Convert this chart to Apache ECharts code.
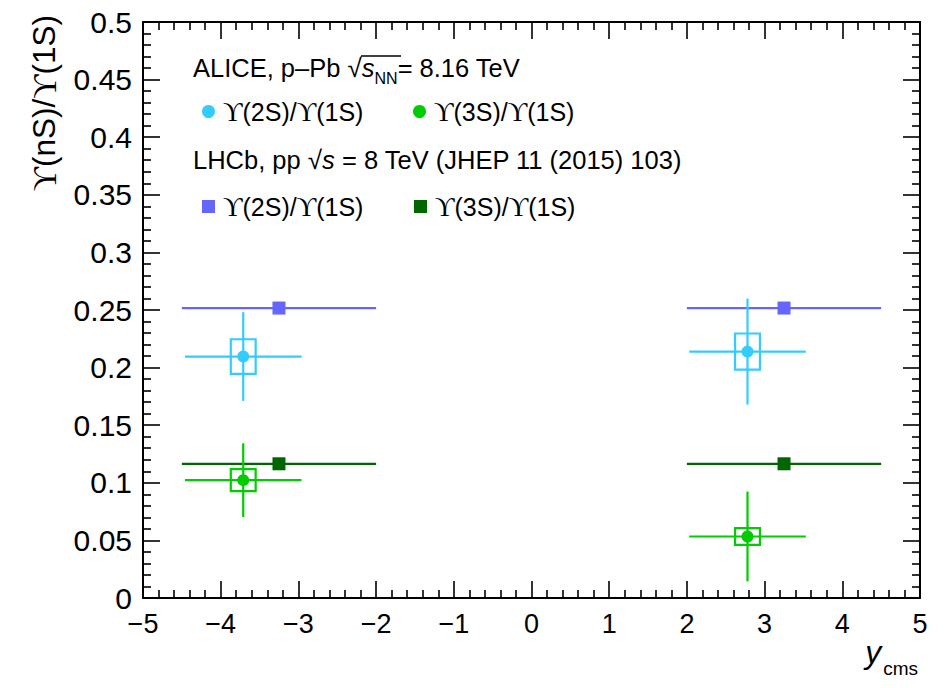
<!DOCTYPE html>
<html>
<head>
<meta charset="utf-8">
<script src="https://cdn.jsdelivr.net/npm/echarts@6/dist/echarts.min.js"></script>
<style>
html,body{margin:0;padding:0;background:#fff;}
#chart{width:950px;height:688px;}
</style>
</head>
<body>
<div id="chart"></div>
<script>
// ---- data ----
const xTickLabels = ['−5','−4','−3','−2','−1','0','1','2','3','4','5'];
const aliceX = [-3.71, 2.78];
const aliceXLow = [-4.46, 2.03];
const aliceXHigh = [-2.96, 3.53];
const alice2S = [0.2096, 0.2139];
const alice2SStat = [0.0385, 0.046];
const alice2SSyst = [0.015, 0.0157];
const alice3S = [0.1023, 0.0534];
const alice3SStat = [0.032, 0.039];
const alice3SSyst = [0.0095, 0.0073];
const lhcbX = [-3.25, 3.25];
const lhcbXLow = [-4.5, 2.0];
const lhcbXHigh = [-2.0, 4.5];
const lhcb2S = [0.2517, 0.2517];
const lhcb3S = [0.1165, 0.1165];

// ---- styles ----
const C_A2 = '#33ccff', C_A3 = '#00cc00', C_L2 = '#6666ff', C_L3 = '#006600';
const BOX_HALF = 0.16;
const SANS = "'Liberation Sans', Arial, Helvetica, sans-serif";
const SERIF = "'Liberation Serif','DejaVu Serif',serif";

function errData(xs, xl, xh, ys, st) {
  return xs.map((x, i) => [x, ys[i], xl[i], xh[i], ys[i] - st[i], ys[i] + st[i]]);
}
function boxData(xs, ys, sy) {
  return xs.map((x, i) => [x, ys[i], ys[i] - sy[i], ys[i] + sy[i]]);
}
function errRender(color) {
  return function (params, api) {
    const l = api.coord([api.value(2), api.value(1)]);
    const r = api.coord([api.value(3), api.value(1)]);
    const lo = api.coord([api.value(0), api.value(4)]);
    const hi = api.coord([api.value(0), api.value(5)]);
    const st = {stroke: color, lineWidth: 2.2};
    const children = [{type: 'line', shape: {x1: l[0], y1: l[1], x2: r[0], y2: r[1]}, style: st}];
    if (Math.abs(lo[1] - hi[1]) > 0.5) {
      children.push({type: 'line', shape: {x1: lo[0], y1: lo[1], x2: hi[0], y2: hi[1]}, style: st});
    }
    return {type: 'group', children};
  };
}
function boxRender(color) {
  return function (params, api) {
    const a = api.coord([api.value(0) - BOX_HALF, api.value(3)]);
    const b = api.coord([api.value(0) + BOX_HALF, api.value(2)]);
    return {type: 'rect', shape: {x: a[0], y: a[1], width: b[0] - a[0], height: b[1] - a[1]},
      style: {fill: 'none', stroke: color, lineWidth: 2.2}};
  };
}
function pts(xs, ys) { return xs.map((x, i) => [x, ys[i]]); }

const chart = echarts.init(document.getElementById('chart'), null, {renderer: 'svg'});

const axisCommon = {
  axisLine: {show: true, onZero: false, lineStyle: {color: '#000', width: 2}},
  axisTick: {show: true, inside: true, length: 17, lineStyle: {color: '#000', width: 1.6}},
  minorTick: {show: true, splitNumber: 5, length: 8, lineStyle: {color: '#000', width: 1.6}},
  splitLine: {show: false},
  minorSplitLine: {show: false}
};

const richU = {
  t: {fontFamily: SANS, fontSize: 25, color: '#000', fontWeight: 'normal'},
  u: {fontFamily: SERIF, fontSize: 27, color: '#000', fontWeight: 'normal'}
};
const upsLabel = (n) => '{u|ϒ}{t|(' + n + 'S)/}{u|ϒ}{t|(1S)}';

function mkLegend(name, left, top) {
  return {
    data: [name], left: left, top: top, padding: 0, orient: 'horizontal',
    itemWidth: 13, itemHeight: 13, selectedMode: false,
    formatter: (n) => upsLabel(n.indexOf('2S') >= 0 ? 2 : 3),
    textStyle: {padding: [0, 0, 0, 3], rich: richU, lineHeight: 26}
  };
}

const headRich = {
  t: {fontFamily: SANS, fontSize: 25.5, color: '#000', fontWeight: 'normal', verticalAlign: 'bottom'},
  r: {fontFamily: SANS, fontSize: 26, color: '#000', fontWeight: 'normal', verticalAlign: 'bottom'},
  s: {fontFamily: SANS, fontSize: 25.5, fontStyle: 'italic', color: '#000', fontWeight: 'normal', verticalAlign: 'bottom'},
  sub: {fontFamily: SANS, fontSize: 16, color: '#000', fontWeight: 'normal', verticalAlign: 'bottom', padding: [0, 0, -5, 0]}
};

const option = {
  animation: false,
  backgroundColor: '#fff',
  grid: {left: 143, right: 30, top: 22, bottom: 90, containLabel: false},
  xAxis: [
    Object.assign({type: 'value', min: -5, max: 5, interval: 1, position: 'bottom',
      axisLabel: {show: true, fontSize: 27, fontFamily: SANS, color: '#000', margin: 12,
        formatter: (v) => xTickLabels[Math.round(v) + 5]}}, axisCommon),
    Object.assign({type: 'value', min: -5, max: 5, interval: 1, position: 'top',
      axisLabel: {show: false}}, axisCommon)
  ],
  yAxis: [
    Object.assign({type: 'value', min: 0, max: 0.5, interval: 0.05, position: 'left',
      axisLabel: {show: true, fontSize: 30, fontFamily: SANS, color: '#000', margin: 11,
        formatter: (v) => String(+v.toFixed(2))}}, axisCommon),
    Object.assign({type: 'value', min: 0, max: 0.5, interval: 0.05, position: 'right',
      axisLabel: {show: false}}, axisCommon)
  ],
  title: [
    {text: '{t|ALICE, p–Pb }{r|√}{s|s}{sub|NN}{t|= 8.16 TeV}', left: 193, top: 55, padding: 0,
      textStyle: {fontWeight: 'normal', rich: headRich}},
    {text: '{t|LHCb, pp }{r|√}{s|s}{t| = 8 TeV (JHEP 11 (2015) 103)}', left: 193, top: 147, padding: 0,
      textStyle: {fontWeight: 'normal', rich: headRich}}
  ],
  legend: [
    mkLegend('ALICE 2S', 202, 98),
    mkLegend('ALICE 3S', 413, 98),
    mkLegend('LHCb 2S', 202, 193),
    mkLegend('LHCb 3S', 414, 193)
  ],
  graphic: [
    {type: 'text', x: 44, y: 15, rotation: Math.PI / 2,
      style: {text: '{u|ϒ}{t|(nS)/}{u|ϒ}{t|(1S)}', align: 'right', verticalAlign: 'middle',
        rich: {t: {fontFamily: SANS, fontSize: 31.5, color: '#000'}, u: {fontFamily: SERIF, fontSize: 33.5, color: '#000'}}}},
    {type: 'text', x: 918, y: 668,
      style: {text: '{i|y}{s|cms}', align: 'right', verticalAlign: 'bottom',
        rich: {i: {fontFamily: SANS, fontStyle: 'italic', fontSize: 32, color: '#000', verticalAlign: 'bottom'},
          s: {fontFamily: SANS, fontSize: 19, color: '#000', verticalAlign: 'bottom', padding: [0, 0, -10, 2]}}}},
    {type: 'line', shape: {x1: 361, y1: 56, x2: 401, y2: 56}, style: {stroke: '#000', lineWidth: 1.5}}
  ],
  series: [
    {name: 'LHCb 2S bar', type: 'custom', renderItem: errRender(C_L2), data: errData(lhcbX, lhcbXLow, lhcbXHigh, lhcb2S, [0, 0]),
      encode: {x: [0, 2, 3], y: [1, 4, 5]}, z: 2, silent: true},
    {name: 'LHCb 3S bar', type: 'custom', renderItem: errRender(C_L3), data: errData(lhcbX, lhcbXLow, lhcbXHigh, lhcb3S, [0, 0]),
      encode: {x: [0, 2, 3], y: [1, 4, 5]}, z: 2, silent: true},
    {name: 'ALICE 2S box', type: 'custom', renderItem: boxRender(C_A2), data: boxData(aliceX, alice2S, alice2SSyst),
      encode: {x: 0, y: [1, 2, 3]}, z: 3, silent: true},
    {name: 'ALICE 3S box', type: 'custom', renderItem: boxRender(C_A3), data: boxData(aliceX, alice3S, alice3SSyst),
      encode: {x: 0, y: [1, 2, 3]}, z: 3, silent: true},
    {name: 'ALICE 2S bar', type: 'custom', renderItem: errRender(C_A2), data: errData(aliceX, aliceXLow, aliceXHigh, alice2S, alice2SStat),
      encode: {x: [0, 2, 3], y: [1, 4, 5]}, z: 3, silent: true},
    {name: 'ALICE 3S bar', type: 'custom', renderItem: errRender(C_A3), data: errData(aliceX, aliceXLow, aliceXHigh, alice3S, alice3SStat),
      encode: {x: [0, 2, 3], y: [1, 4, 5]}, z: 3, silent: true},
    {name: 'LHCb 2S', type: 'scatter', symbol: 'rect', symbolSize: 13, itemStyle: {color: C_L2, opacity: 1},
      data: pts(lhcbX, lhcb2S), z: 4},
    {name: 'LHCb 3S', type: 'scatter', symbol: 'rect', symbolSize: 13, itemStyle: {color: C_L3, opacity: 1},
      data: pts(lhcbX, lhcb3S), z: 4},
    {name: 'ALICE 2S', type: 'scatter', symbol: 'circle', symbolSize: 12, itemStyle: {color: C_A2, opacity: 1},
      data: pts(aliceX, alice2S), z: 5},
    {name: 'ALICE 3S', type: 'scatter', symbol: 'circle', symbolSize: 12, itemStyle: {color: C_A3, opacity: 1},
      data: pts(aliceX, alice3S), z: 5}
  ]
};
chart.setOption(option);
</script>
</body>
</html>
